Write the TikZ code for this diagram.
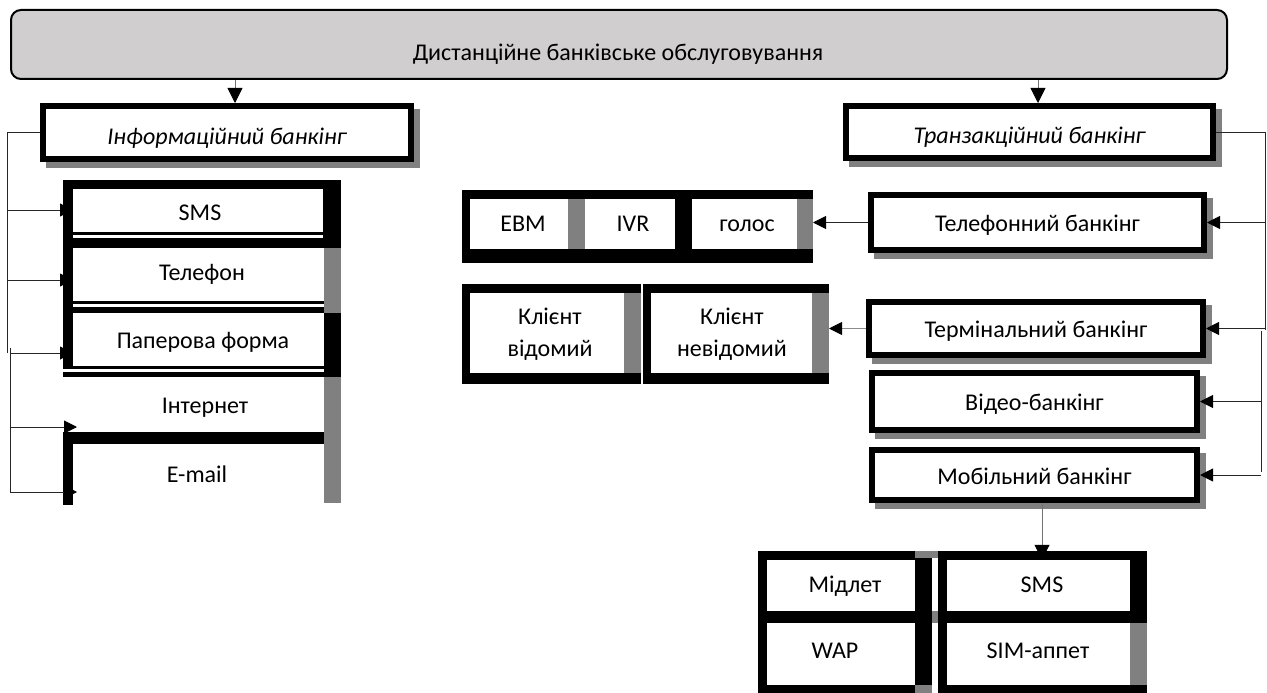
\documentclass[tikz,border=0pt]{standalone}
\usepackage{fontspec}
\setmainfont{Carlito}
\usetikzlibrary{arrows.meta}
\definecolor{topgray}{RGB}{208,206,206}
\definecolor{bargray}{RGB}{128,128,128}
\definecolor{shgray}{RGB}{128,128,128}
\begin{document}
\begin{tikzpicture}[x=1pt,y=-1pt,
  font=\fontsize{24}{32}\selectfont,
  sbox/.style={draw=black, line width=6pt, fill=white, inner sep=0pt,
    text height=21pt, text depth=3pt,
    preaction={draw=shgray, fill=shgray, line width=6pt,
      transform canvas={shift={(6pt,-6pt)}}}},
  headbox/.style={sbox, text height=24pt, text depth=1pt,
    font=\fontsize{24}{32}\selectfont\itshape},
  cell/.style={inner sep=0pt, align=center, text height=16pt, text depth=5pt},
  cell2/.style={inner sep=0pt, align=center},
  conn/.style={line width=1pt, draw=black!85},
  sarr/.style={conn, -{Triangle[length=13pt,width=13pt,color=black]}},
  barr/.style={line width=0.8pt, draw=black!55, -{Triangle[length=15pt,width=15pt,color=black]}},
]
\useasboundingbox (0,0) rectangle (1267,693);

% top box
\node[draw, line width=2pt, fill=topgray, rounded corners=10pt, inner sep=0pt,
  minimum width=1216pt, minimum height=69pt] (top) at (619,44.5) {};
\node[cell] (toptext) at (618,55) {Дистанційне банківське обслуговування};

% level 2 boxes
\node[headbox, minimum width=368pt, minimum height=53pt] (info) at (227,132.5) {Інформаційний банкінг};
\node[headbox, minimum width=367pt, minimum height=52pt] (trans) at (1029.5,132) {Транзакційний банкінг};

\coordinate (a1) at (235,0);
\coordinate (a2) at (1038,0);
\draw[barr] (top.south -| a1) -- (info.north -| a1);
\draw[barr] (top.south -| a2) -- (trans.north -| a2);

% right boxes
\node[sbox, minimum width=333pt, minimum height=55pt] (tele) at (1037.5,222.5) {Телефонний банкінг};
\node[sbox, minimum width=334pt, minimum height=53pt] (term) at (1036,328.5) {Термінальний банкінг};
\node[sbox, minimum width=325pt, minimum height=57pt] (video) at (1034.5,401.5) {Відео-банкінг};
\node[sbox, minimum width=325pt, minimum height=50pt] (mobile) at (1034.5,475) {Мобільний банкінг};

% right trunk
\coordinate (rt1) at (1265,330);
\coordinate (rt2a) at (1261,331);
\coordinate (rt2b) at (1261,472);
\draw[conn] (trans.east) -| (rt1);
\draw[conn] (rt2a) -- (rt2b);
\draw[sarr] (tele.east -| rt1) -- (tele.east);
\draw[sarr] (term.east -| rt1) -- (term.east);
\draw[sarr] (video.east -| rt2a) -- (video.east);
\draw[sarr] (mobile.east -| rt2a) -- (mobile.east);

% left stack
\fill (63,180) rectangle (341,189);
\fill (63,180) rectangle (73,366);
\fill (323,180) rectangle (341,248);
\fill[bargray] (324,248) rectangle (341,313);
\fill (324,313) rectangle (341,377);
\fill[bargray] (324,377) rectangle (341,503);
\fill (63,232) rectangle (323,234.5);
\fill (63,238) rectangle (323,248);
\fill (63,301) rectangle (324,303.5);
\fill (63,307) rectangle (324,313);
\fill (63,366) rectangle (324,368.5);
\fill (63,372) rectangle (324,377);
\fill (63,432) rectangle (324,444);
\fill (63,432) rectangle (73,505);

\node[cell, minimum width=250pt] (sms) at (200,214.5) {SMS};
\node[cell, minimum width=250pt] (tel) at (202,274.5) {Телефон};
\node[cell, minimum width=250pt] (paper) at (203,342.5) {Паперова форма};
\node[cell, minimum width=250pt] (inet) at (205,407.5) {Інтернет};
\node[cell, minimum width=250pt] (mail) at (197,476.5) {E-mail};

% left connectors
\coordinate (lt1) at (7,353);
\coordinate (lt2a) at (10,348);
\coordinate (lt2b) at (10,492);
\coordinate (bs) at (7,210);
\coordinate (bt) at (7,280);
\coordinate (bp) at (10,353);
\coordinate (bi) at (10,427);
\coordinate (bm) at (10,492);
\draw[conn] (info.west) -| (lt1);
\draw[conn] (lt2a) -- (lt2b);
\draw[sarr] (bs) -- (bs -| 73,0);
\draw[sarr] (bt) -- (bt -| 73,0);
\draw[sarr] (bp) -- (bp -| 73,0);
\draw[sarr] (bi) -- (bi -| 77,0);
\draw[sarr] (bm) -- (bm -| 77,0);

% group 1
\fill (462,190) rectangle (813,263);
\fill[white] (470,199) rectangle (568,249);
\fill[bargray] (568,199) rectangle (585,249);
\fill[white] (585,199) rectangle (675,249);
\fill[white] (692,199) rectangle (797,249);
\fill[bargray] (797,199) rectangle (813,249);
\node[cell] (evm) at (523,225.5) {ЕВМ};
\node[cell] (ivr) at (633,225.5) {IVR};
\node[cell] (golos) at (747,225.5) {голос};
\coordinate (g1e) at (813,225);
\draw[sarr] (tele.west) -- (tele.west -| g1e);

% group 2
\fill (462,284) rectangle (641,384);
\fill[white] (470,293) rectangle (624,373);
\fill[bargray] (624,293) rectangle (641,373);
\fill (643,284) rectangle (829,384);
\fill[white] (651,293) rectangle (812,373);
\fill[bargray] (812,293) rectangle (829,373);
\node[cell2] (kv) at (550,334) {Клієнт\\відомий};
\node[cell2] (kn) at (732,334) {Клієнт\\невідомий};
\coordinate (g2e) at (829,330);
\draw[sarr, draw=black!45] (term.west) -- (term.west -| g2e);

% bottom grid
\fill (758,551) rectangle (915,693);
\fill (915,558) rectangle (932,685);
\fill[bargray] (915,551) rectangle (938,558);
\fill[bargray] (932,611) rectangle (938,623);
\fill[bargray] (915,685) rectangle (932,693);
\fill[white] (767,560) rectangle (915,611);
\fill[white] (767,623) rectangle (915,685);
\fill (938,551) rectangle (1147,693);
\fill[white] (947,560) rectangle (1130,611);
\fill[white] (947,623) rectangle (1130,685);
\fill[bargray] (1130,623) rectangle (1147,685);
\node[cell] (midlet) at (845,586.5) {Мідлет};
\node[cell] (wap) at (835,652.5) {WAP};
\node[cell2, minimum width=183pt, minimum height=51pt] (sms2) at (1042,585.5) {};
\node[cell] (smstext) at (1042,586.5) {SMS};
\node[cell] (sim) at (1038,652.5) {SIM-аппет};
\draw[barr] (mobile.south -| sms2.north) -- (sms2.north);
\end{tikzpicture}
\end{document}
